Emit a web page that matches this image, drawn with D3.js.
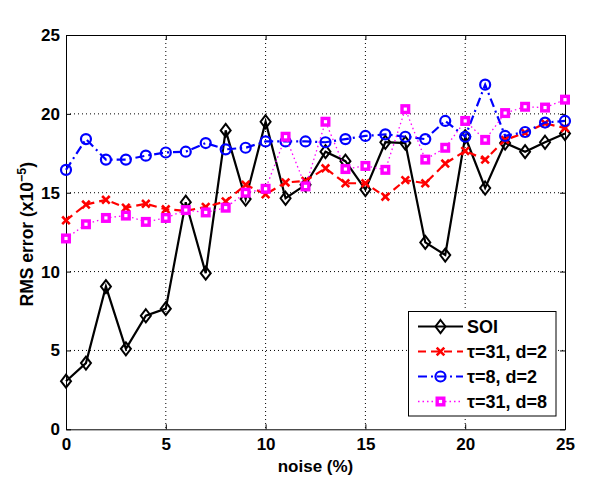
<!DOCTYPE html>
<html>
<head>
<meta charset="utf-8">
<script src="https://cdn.jsdelivr.net/npm/d3@7"></script>
<style>
  html, body { margin: 0; padding: 0; background: #fff; }
  svg { display: block; }
  text { font-family: "Liberation Sans", Arial, sans-serif; font-weight: bold; fill: #000; }
</style>
</head>
<body>
<svg id="chart" width="610" height="494"></svg>
<script>
const noise = [0,1,2,3,4,5,6,7,8,9,10,11,12,13,14,15,16,17,18,19,20,21,22,23,24,25];
const soi = [3.05, 4.2, 9.05, 5.1, 7.2, 7.65, 14.4, 9.9, 18.95, 14.6, 19.5, 14.65, 15.5, 17.6, 17.0, 15.2, 18.2, 18.15, 11.85, 11.05, 18.55, 15.3, 18.15, 17.6, 18.2, 18.75];
const tau31d2 = [13.25, 14.25, 14.55, 14.05, 14.3, 13.95, 13.85, 14.1, 14.45, 15.5, 14.9, 15.65, 15.75, 16.55, 15.6, 15.6, 14.75, 15.8, 15.6, 16.85, 17.65, 17.1, 18.35, 18.8, 19.4, 19.1];
const tau8d2 = [16.45, 18.4, 17.1, 17.1, 17.35, 17.55, 17.6, 18.15, 17.75, 17.85, 18.25, 18.25, 18.25, 18.2, 18.4, 18.6, 18.7, 18.55, 18.4, 19.55, 18.55, 21.85, 18.6, 18.85, 19.45, 19.55];
const tau31d8 = [12.1, 13.0, 13.4, 13.55, 13.15, 13.4, 13.9, 13.75, 14.05, 15.0, 15.25, 18.55, 15.4, 19.5, 16.5, 16.7, 16.45, 20.3, 17.1, 17.85, 19.55, 18.35, 20.05, 20.45, 20.4, 20.9];
const xTicks = [0,5,10,15,20,25];
const yTicks = [0,5,10,15,20,25];
const seriesNames = ["SOI", "\u03c4=31, d=2", "\u03c4=8, d=2", "\u03c4=31, d=8"];

const svg = d3.select("#chart");
const L = 66, R = 565, T = 35, B = 429.3;
const x = d3.scaleLinear().domain([0,25]).range([L,R]);
const y = d3.scaleLinear().domain([0,25]).range([B,T]);

// grid
const grid = svg.append("g");
xTicks.filter(t => t > 0 && t < 25).forEach(t => {
  grid.append("line").attr("x1", x(t)).attr("x2", x(t)).attr("y1", T).attr("y2", B)
    .attr("stroke", "#000").attr("stroke-width", 1).attr("stroke-dasharray", "1,3");
});
yTicks.filter(t => t > 0 && t < 25).forEach(t => {
  grid.append("line").attr("y1", y(t)).attr("y2", y(t)).attr("x1", L).attr("x2", R)
    .attr("stroke", "#000").attr("stroke-width", 1).attr("stroke-dasharray", "1,3");
});

// axes
const xAxisB = d3.axisBottom(x).tickValues(xTicks).tickSizeInner(-5).tickSizeOuter(0).tickPadding(9);
const xAxisT = d3.axisTop(x).tickValues(xTicks).tickSizeInner(-5).tickSizeOuter(0).tickFormat("");
const yAxisL = d3.axisLeft(y).tickValues(yTicks).tickSizeInner(-5).tickSizeOuter(0).tickPadding(6);
const yAxisR = d3.axisRight(y).tickValues(yTicks).tickSizeInner(-5).tickSizeOuter(0).tickFormat("");

function styleAxis(g) {
  g.select(".domain").attr("stroke", "#000").attr("stroke-width", 1);
  g.selectAll(".tick line").attr("stroke", "#000").attr("stroke-width", 1);
  g.selectAll(".tick text").style("font-size", "17px").style("font-family", "'Liberation Sans', Arial, sans-serif").style("font-weight", "bold").attr("fill", "#000");
}
svg.append("g").attr("transform", `translate(0,${B})`).call(xAxisB).call(styleAxis);
svg.append("g").attr("transform", `translate(0,${T})`).call(xAxisT).call(styleAxis);
svg.append("g").attr("transform", `translate(${L},0)`).call(yAxisL).call(styleAxis);
svg.append("g").attr("transform", `translate(${R},0)`).call(yAxisR).call(styleAxis);

// axis labels
svg.append("text").attr("x", (L+R)/2).attr("y", 472).attr("text-anchor", "middle")
  .style("font-size", "17px").text("noise (%)");
const yl = svg.append("text").attr("transform", `translate(33,${(T+B)/2 + 2}) rotate(-90)`)
  .attr("text-anchor", "middle").style("font-size", "17.5px");
yl.append("tspan").text("RMS error (x10");
yl.append("tspan").attr("dy", -7).style("font-size", "12.5px").text("\u22125");
yl.append("tspan").attr("dy", 7).text(")");

// marker drawing
function diamond(g, cx, cy) {
  g.append("path").attr("d", `M${cx},${cy-6.5} L${cx+5},${cy} L${cx},${cy+6.5} L${cx-5},${cy} Z`)
    .attr("fill", "none").attr("stroke", "#000").attr("stroke-width", 2);
}
function cross(g, cx, cy) {
  const s = 3.8;
  g.append("path").attr("d", `M${cx-s},${cy-s} L${cx+s},${cy+s} M${cx-s},${cy+s} L${cx+s},${cy-s}`)
    .attr("stroke", "#ff0000").attr("stroke-width", 2.6).attr("fill", "none");
}
function circle(g, cx, cy) {
  g.append("circle").attr("cx", cx).attr("cy", cy).attr("r", 5)
    .attr("fill", "none").attr("stroke", "#0000ff").attr("stroke-width", 2.2);
}
function square(g, cx, cy) {
  g.append("rect").attr("x", cx-3.3).attr("y", cy-3.3).attr("width", 6.6).attr("height", 6.6)
    .attr("fill", "#fff").attr("stroke", "#ff00ff").attr("stroke-width", 3.4);
}

const series = [
  { vals: soi, color: "#000", width: 2.2, dash: null, marker: diamond },
  { vals: tau31d2, color: "#ff0000", width: 2.2, dash: "8,5", marker: cross },
  { vals: tau8d2, color: "#0000ff", width: 2.2, dash: "9,4,2,4", marker: circle },
  { vals: tau31d8, color: "#ff00ff", width: 1.3, dash: "1.5,3", marker: square }
];

const line = d3.line().x(d => x(d[0])).y(d => y(d[1]));
series.forEach(s => {
  const pts = noise.map((n, i) => [n, s.vals[i]]);
  const g = svg.append("g");
  g.append("path").attr("d", line(pts)).attr("fill", "none")
    .attr("stroke", s.color).attr("stroke-width", s.width)
    .attr("stroke-dasharray", s.dash);
  pts.forEach(p => s.marker(g, x(p[0]), y(p[1])));
});

// legend
const lg = svg.append("g");
lg.append("rect").attr("x", 408.5).attr("y", 311.5).attr("width", 147.5).attr("height", 104.5)
  .attr("fill", "#fff").attr("stroke", "#000").attr("stroke-width", 1);
series.forEach((s, i) => {
  const ly = 326.5 + i * 25;
  lg.append("line").attr("x1", 418).attr("x2", 463).attr("y1", ly).attr("y2", ly)
    .attr("stroke", s.color).attr("stroke-width", s.width).attr("stroke-dasharray", s.dash);
  s.marker(lg, 440.5, ly);
  lg.append("text").attr("x", 467).attr("y", ly + 6.5).style("font-size", "18px").text(seriesNames[i]);
});
</script>
</body>
</html>
